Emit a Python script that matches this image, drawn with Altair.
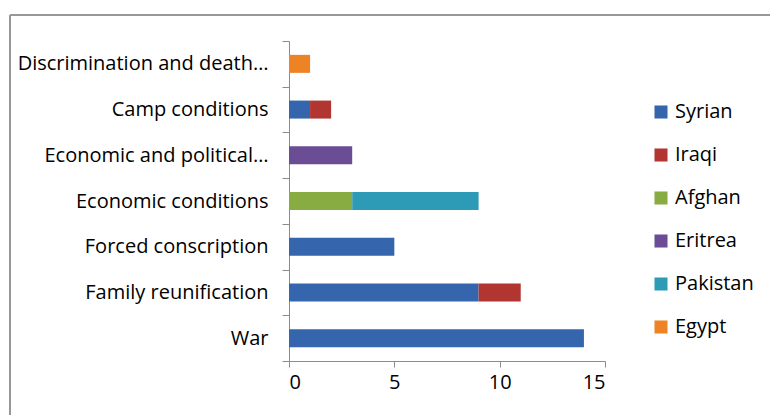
import altair as alt
import pandas as pd

categories = [
    "Discrimination and death…",
    "Camp conditions",
    "Economic and political…",
    "Economic conditions",
    "Forced conscription",
    "Family reunification",
    "War",
]
series = ["Syrian", "Iraqi", "Afghan", "Eritrea", "Pakistan", "Egypt"]
colors = ["#3566AD", "#B13531", "#88AC41", "#6B4D95", "#2E9BB6", "#EE8326"]

syrian = [0, 1, 0, 0, 5, 9, 14]
iraqi = [0, 1, 0, 0, 0, 2, 0]
afghan = [0, 0, 0, 3, 0, 0, 0]
eritrea = [0, 0, 3, 0, 0, 0, 0]
pakistan = [0, 0, 0, 6, 0, 0, 0]
egypt = [1, 0, 0, 0, 0, 0, 0]

values = dict(zip(series, [syrian, iraqi, afghan, eritrea, pakistan, egypt]))
rows = []
for si, s in enumerate(series):
    for ci, c in enumerate(categories):
        v = values[s][ci]
        if v:
            rows.append({"reason": c, "origin": s, "count": v, "order": si})
df = pd.DataFrame(rows)

FONT = "Open Sans"
FS = 20

bars = alt.Chart(df).mark_bar(size=18).encode(
    y=alt.Y("reason:N", sort=categories, title=None,
            scale=alt.Scale(paddingInner=0, paddingOuter=0),
            axis=alt.Axis(tickBand="extent", tickSize=7, labelPadding=14,
                          labelFontSize=FS, labelFont=FONT, labelColor="#000000",
                          domainColor="#8c8c8c", tickColor="#8c8c8c", labelLimit=300)),
    x=alt.X("count:Q", title=None, stack="zero",
            scale=alt.Scale(domain=[0, 15], nice=False),
            axis=alt.Axis(values=[0, 5, 10, 15], grid=False, tickSize=6, labelPadding=5,
                          labelFontSize=FS, labelFont=FONT, labelColor="#000000",
                          domainColor="#8c8c8c", tickColor="#8c8c8c")),
    color=alt.Color("origin:N", scale=alt.Scale(domain=series, range=colors), title=None,
                    legend=alt.Legend(orient="none", legendX=362, legendY=61,
                                      symbolType="square", symbolSize=170,
                                      symbolStrokeWidth=0, labelFontSize=FS,
                                      labelFont=FONT, labelColor="#000000",
                                      rowPadding=23, labelOffset=4)),
    order=alt.Order("order:Q"),
)

frame_left = alt.Chart(df).mark_rule(color="#999999", strokeWidth=1.5).encode(
    x=alt.value(-279), y=alt.value(-26), y2=alt.value(400))
frame_top = alt.Chart(df).mark_rule(color="#999999", strokeWidth=1.5).encode(
    x=alt.value(-279), x2=alt.value(500), y=alt.value(-26))

chart = alt.layer(bars, frame_left, frame_top).properties(
    width=316, height=320,
    background="#ffffff",
    autosize=alt.AutoSizeParams(type="none"),
    padding={"left": 289, "top": 41, "right": 165, "bottom": 54},
).configure_view(strokeWidth=0, stroke="transparent")

chart.save("out.html", embed_options={"renderer": "svg", "actions": False})
